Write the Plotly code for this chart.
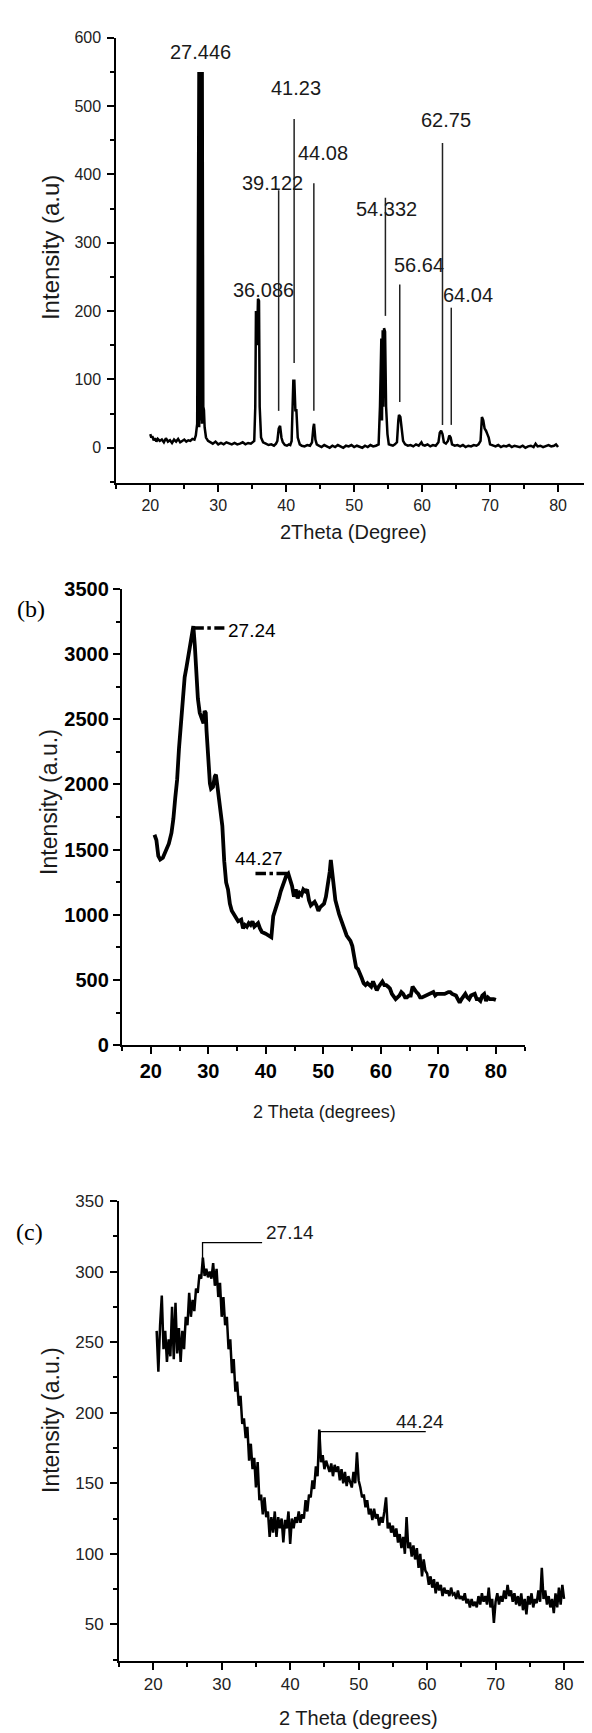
import plotly.graph_objects as go

W, H = 592, 1733

# ---------------- Panel (a) data ----------------
pts_a = [
    (20.0, 20), (20.15, 15), (20.3, 17), (20.5, 11), (20.7, 14), (20.9, 9), (21.1, 13), (21.4, 10),
    (21.7, 12), (22.0, 8), (22.3, 14), (22.6, 9), (22.9, 11), (23.2, 7), (23.5, 12), (23.8, 9),
    (24.1, 13), (24.4, 8), (24.7, 10), (25.0, 12), (25.3, 9), (25.6, 11), (25.9, 10), (26.2, 13),
    (26.5, 12), (26.7, 18), (26.9, 35),
    (27.0, 520), (27.1, 550), (27.2, 30), (27.3, 550), (27.4, 40), (27.5, 550), (27.6, 35),
    (27.7, 550), (27.8, 60), (27.9, 55), (28.0, 30), (28.2, 15), (28.5, 10),
    (28.8, 8), (29.2, 6), (29.6, 9), (30.0, 5), (30.4, 7), (30.8, 5), (31.2, 8), (31.6, 6), (32.0, 5),
    (32.4, 7), (32.8, 5), (33.2, 6), (33.6, 8), (34.0, 5), (34.4, 7), (34.8, 6), (35.1, 8),
    (35.3, 10), (35.45, 60), (35.55, 200), (35.7, 150), (35.85, 218), (36.0, 215), (36.1, 60),
    (36.3, 15), (36.6, 8),
    (37.0, 6), (37.4, 4), (37.8, 5), (38.2, 3), (38.5, 6), (38.7, 10), (38.9, 28), (39.1, 32),
    (39.3, 15), (39.5, 8), (39.8, 4), (40.1, 3), (40.4, 5), (40.6, 4), (40.8, 10),
    (40.9, 70), (41.05, 98), (41.2, 98), (41.35, 55), (41.5, 55), (41.7, 15), (42.0, 5), (42.3, 3),
    (42.7, 2), (43.1, 4), (43.5, 3), (43.8, 8), (44.0, 30), (44.1, 35), (44.3, 12), (44.5, 5),
    (44.8, 3), (45.2, 1), (45.6, 4), (46.0, 2), (46.4, 0), (46.8, 3), (47.2, 1), (47.6, 4), (48.0, 2),
    (48.4, 0), (48.8, 3), (49.2, 2), (49.6, 4), (50.0, 1), (50.4, 3), (50.8, 2), (51.2, 0), (51.6, 3),
    (52.0, 1), (52.4, 4), (52.8, 2), (53.2, 3), (53.6, 5),
    (53.8, 60), (54.0, 160), (54.1, 40), (54.2, 172), (54.3, 60), (54.4, 175), (54.55, 170),
    (54.7, 60), (54.9, 20),
    (55.1, 5), (55.4, 4), (55.7, 3), (56.0, 5), (56.3, 8), (56.5, 40), (56.6, 48), (56.8, 45),
    (57.0, 25), (57.2, 10), (57.5, 5),
    (57.9, 3), (58.3, 4), (58.7, 2), (59.1, 5), (59.5, 3), (59.9, 8), (60.1, 4), (60.4, 3), (60.8, 5),
    (61.2, 2), (61.6, 4), (62.0, 3), (62.4, 8), (62.6, 22), (62.8, 25), (63.0, 20), (63.2, 8),
    (63.5, 6), (63.8, 10), (64.0, 18), (64.2, 15), (64.4, 5),
    (64.8, 3), (65.2, 4), (65.6, 2), (66.0, 4), (66.4, 1), (66.8, 3), (67.2, 2), (67.6, 4), (68.0, 3),
    (68.3, 5), (68.6, 10), (68.8, 45), (69.0, 40), (69.2, 28), (69.4, 25), (69.6, 20), (69.8, 15),
    (70.0, 5),
    (70.4, 3), (70.8, 2), (71.2, 4), (71.6, 1), (72.0, 3), (72.4, 2), (72.8, 4), (73.2, 1), (73.6, 3),
    (74.0, 2), (74.4, 1), (74.8, 3), (75.2, 0), (75.6, 2), (76.0, 3), (76.4, 1), (76.7, 6), (77.0, 2),
    (77.4, 3), (77.8, 1), (78.2, 2), (78.6, 4), (79.0, 2), (79.4, 3), (79.7, 5), (80.0, 1),
]
labels_a = ["27.446", "36.086", "39.122", "41.23", "44.08", "54.332", "56.64", "62.75", "64.04"]
label_a_x = [27.36, 36.71, 38.05, 41.45, 45.35, 54.82, 59.5, 63.5, 66.69]
label_a_y = [579, 231, 388, 526, 431, 350, 267, 480, 224]
lead_a_x = [38.89, 41.17, 44.07, 54.6, 56.71, 63.0, 64.29]
lead_a_top = [377, 481, 387, 366, 239, 446, 205]
lead_a_bot = [54, 124, 54, 193, 67, 33.5, 33.5]

# ---------------- Panel (b) data ----------------
pts_b = [
    (20.65, 1614), (20.98, 1573), (21.31, 1451), (21.64, 1424), (22.10, 1438), (22.62, 1492),
    (23.14, 1546), (23.60, 1628), (23.93, 1736), (24.26, 1899), (24.58, 2035), (24.91, 2279),
    (25.24, 2442), (25.57, 2686), (25.89, 2822), (26.22, 2903), (26.55, 2984), (26.88, 3066),
    (27.20, 3174), (27.40, 3215), (27.66, 3066), (27.86, 2876), (28.19, 2659), (28.51, 2550),
    (28.84, 2496), (29.17, 2469), (29.36, 2564), (29.56, 2550), (29.69, 2415), (29.82, 2306),
    (30.02, 2198), (30.28, 2008), (30.48, 1967), (30.81, 1980), (31.13, 2062), (31.33, 2075),
    (31.53, 2008), (31.79, 1926), (32.12, 1818), (32.44, 1682), (32.77, 1411), (33.10, 1248),
    (33.43, 1194), (33.75, 1085), (34.08, 1031), (34.41, 1004), (34.73, 977), (35.19, 950),
    (35.72, 963), (36.04, 895), (36.37, 922), (36.70, 909), (37.03, 936), (37.35, 922),
    (37.68, 950), (38.01, 909), (38.34, 922), (38.66, 936), (38.99, 895), (39.32, 868),
    (39.97, 855), (40.63, 841), (40.96, 827), (41.29, 990), (41.61, 1031), (41.94, 1072),
    (42.27, 1126), (42.59, 1180), (42.92, 1221), (43.25, 1275), (43.58, 1302), (43.90, 1316),
    (44.23, 1275), (44.56, 1221), (44.89, 1139), (45.21, 1194), (45.54, 1126), (45.87, 1167),
    (46.20, 1153), (46.52, 1194), (46.85, 1180), (47.18, 1194), (47.50, 1112), (47.83, 1072),
    (48.16, 1085), (48.49, 1099), (48.81, 1072), (49.14, 1031), (49.47, 1058), (49.80, 1072),
    (50.12, 1085), (50.45, 1139), (50.78, 1221), (51.11, 1330), (51.30, 1420), (51.57, 1300),
    (52.09, 1112), (52.74, 1004), (53.40, 922), (54.05, 841), (54.71, 800), (55.04, 760),
    (55.36, 678), (55.69, 597), (56.02, 583), (56.35, 556), (56.67, 515), (57.00, 475),
    (57.33, 461), (57.66, 475), (57.98, 461), (58.31, 448), (58.64, 488), (58.97, 448),
    (59.29, 420), (59.62, 448), (59.95, 475), (60.27, 488), (60.60, 461), (60.93, 461),
    (61.26, 448), (61.58, 434), (61.91, 393), (62.24, 366), (62.57, 353), (62.89, 366),
    (63.22, 380), (63.55, 407), (63.88, 393), (64.20, 366), (64.53, 366), (64.86, 380),
    (65.19, 380), (65.51, 448), (65.84, 420), (66.17, 407), (66.50, 393), (66.82, 366),
    (67.15, 366), (67.81, 380), (68.46, 393), (69.12, 407), (69.44, 380), (69.77, 393),
    (70.43, 393), (71.08, 393), (71.74, 407), (72.06, 407), (72.39, 393), (73.05, 380),
    (73.37, 353), (73.70, 326), (74.03, 353), (74.36, 380), (74.68, 393), (75.01, 366),
    (75.34, 353), (75.66, 380), (76.32, 393), (76.65, 353), (76.97, 353), (77.30, 339),
    (77.63, 380), (77.96, 393), (78.28, 339), (78.61, 366), (78.94, 353), (79.59, 353),
    (79.99, 347),
]
labels_b = ["27.24", "44.27"]
mark_b_x0 = [27.4, 38.2]
mark_b_x1 = [32.8, 43.9]
mark_b_y = [3200, 1316]

# ---------------- Panel (c) data ----------------
pts_c = [
    (20.5, 258), (20.75, 229),
    (21.0, 262), (21.25, 283), (21.5, 245), (21.75, 258),
    (22.0, 236), (22.25, 252), (22.5, 240), (22.75, 275),
    (23.0, 238), (23.25, 278), (23.5, 242), (23.75, 260),
    (24.0, 236), (24.25, 258), (24.5, 245), (24.75, 268),
    (25.0, 262), (25.25, 285), (25.5, 268), (25.75, 280),
    (26.0, 272), (26.25, 288), (26.5, 285), (26.75, 298),
    (27.0, 295), (27.25, 310), (27.5, 297), (27.75, 302),
    (28.0, 296), (28.25, 300), (28.5, 295), (28.75, 306),
    (29.0, 290), (29.25, 302), (29.5, 282), (29.75, 292),
    (30.0, 268), (30.25, 282), (30.5, 262), (30.75, 268),
    (31.0, 245), (31.25, 252), (31.5, 228), (31.75, 238),
    (32.0, 215), (32.25, 222), (32.5, 205), (32.75, 212),
    (33.0, 192), (33.25, 196), (33.5, 182), (33.75, 190),
    (34.0, 166), (34.25, 178), (34.5, 160), (34.75, 168),
    (35.0, 147), (35.25, 165), (35.5, 138), (35.75, 142),
    (36.0, 128), (36.25, 140), (36.5, 126), (36.75, 130),
    (37.0, 112), (37.25, 126), (37.5, 115), (37.75, 130),
    (38.0, 112), (38.25, 126), (38.5, 118), (38.75, 125),
    (39.0, 108), (39.25, 124), (39.5, 118), (39.75, 130),
    (40.0, 107), (40.25, 125), (40.5, 118), (40.75, 126),
    (41.0, 122), (41.25, 130), (41.5, 122), (41.75, 128),
    (42.0, 125), (42.25, 138), (42.5, 130), (42.75, 142),
    (43.0, 140), (43.25, 152), (43.5, 146), (43.75, 162),
    (44.0, 155), (44.25, 188), (44.5, 165), (44.75, 170),
    (45.0, 160), (45.25, 166), (45.5, 162), (45.75, 158),
    (46.0, 164), (46.25, 155), (46.5, 163), (46.75, 158),
    (47.0, 162), (47.25, 152), (47.5, 160), (47.75, 150),
    (48.0, 158), (48.25, 148), (48.5, 155), (48.75, 150),
    (49.0, 147), (49.25, 158), (49.5, 150), (49.75, 172),
    (50.0, 152), (50.25, 147), (50.5, 140), (50.75, 142),
    (51.0, 133), (51.25, 138), (51.5, 128), (51.75, 132),
    (52.0, 124), (52.25, 132), (52.5, 125), (52.75, 128),
    (53.0, 120), (53.25, 126), (53.5, 122), (53.75, 130),
    (54.0, 140), (54.25, 118), (54.5, 122), (54.75, 115),
    (55.0, 120), (55.25, 112), (55.5, 118), (55.75, 108),
    (56.0, 114), (56.25, 104), (56.5, 112), (56.75, 100),
    (57.0, 126), (57.25, 104), (57.5, 108), (57.75, 98),
    (58.0, 106), (58.25, 96), (58.5, 104), (58.75, 90),
    (59.0, 100), (59.25, 84), (59.5, 96), (59.75, 88),
    (60.0, 86), (60.25, 78), (60.5, 84), (60.75, 76),
    (61.0, 82), (61.25, 72), (61.5, 80), (61.75, 74),
    (62.0, 78), (62.25, 70), (62.5, 76), (62.75, 72),
    (63.0, 74), (63.25, 70), (63.5, 76), (63.75, 71),
    (64.0, 72), (64.25, 68), (64.5, 74), (64.75, 68),
    (65.0, 70), (65.25, 67), (65.5, 72), (65.75, 65),
    (66.0, 68), (66.25, 62), (66.5, 68), (66.75, 63),
    (67.0, 66), (67.25, 62), (67.5, 70), (67.75, 64),
    (68.0, 72), (68.25, 66), (68.5, 70), (68.75, 64),
    (69.0, 76), (69.25, 62), (69.5, 68), (69.75, 51),
    (70.0, 66), (70.25, 72), (70.5, 64), (70.75, 70),
    (71.0, 66), (71.25, 74), (71.5, 68), (71.75, 78),
    (72.0, 70), (72.25, 74), (72.5, 66), (72.75, 72),
    (73.0, 64), (73.25, 70), (73.5, 63), (73.75, 72),
    (74.0, 60), (74.25, 68), (74.5, 57), (74.75, 70),
    (75.0, 64), (75.25, 72), (75.5, 62), (75.75, 68),
    (76.0, 65), (76.25, 74), (76.5, 66), (76.75, 90),
    (77.0, 68), (77.25, 74), (77.5, 64), (77.75, 70),
    (78.0, 62), (78.25, 68), (78.5, 58), (78.75, 72),
    (79.0, 62), (79.25, 76), (79.5, 64), (79.75, 78),
    (80.0, 68),
]
labels_c = ["27.14", "44.24"]
mark_c_x = [27.2, 44.4]
mark_c_x1 = [35.9, 59.8]
mark_c_ybot = [308, 174]
mark_c_ytop = [320.5, 186.6]
label_c_x = [40.0, 58.9]
label_c_y = [328, 194]

x_ticks = [20, 30, 40, 50, 60, 70, 80]


def px(xp):
    return xp / W


def py(yp):
    return 1 - yp / H


SANS = "Liberation Sans, Arial, sans-serif"
SERIF = "Liberation Serif, Times New Roman, serif"

fig = go.Figure()
fig.add_trace(go.Scatter(x=[p[0] for p in pts_a], y=[p[1] for p in pts_a], mode="lines",
                         line=dict(color="black", width=2.5), xaxis="x", yaxis="y"))
fig.add_trace(go.Scatter(x=[p[0] for p in pts_b], y=[p[1] for p in pts_b], mode="lines",
                         line=dict(color="black", width=3.8), xaxis="x2", yaxis="y2"))
fig.add_trace(go.Scatter(x=[p[0] for p in pts_c], y=[p[1] for p in pts_c], mode="lines",
                         line=dict(color="black", width=2.5), xaxis="x3", yaxis="y3"))


def axis_style(font, minor_dtick, lw=2, standoff=0):
    return dict(showline=True, linecolor="black", linewidth=lw, ticks="outside", ticklen=7,
                tickwidth=2, tickcolor="black", showgrid=False, zeroline=False,
                tickfont=font, ticklabelstandoff=standoff,
                minor=dict(ticks="outside", ticklen=4, tickwidth=1.5, tickcolor="black",
                           dtick=minor_dtick, showgrid=False))


font_a = dict(family=SANS, size=16, color="#222")
font_b = dict(family=SANS, size=20, color="black", weight="bold")
font_c = dict(family=SANS, size=17, color="#222")

fig.update_layout(
    width=W, height=H, margin=dict(l=0, r=0, t=0, b=0),
    paper_bgcolor="white", plot_bgcolor="white", showlegend=False,
    xaxis=dict(domain=[px(108.3), px(584)], anchor="y", range=[15, 85],
               tickvals=x_ticks, **axis_style(font_a, 5)),
    yaxis=dict(domain=[py(470), py(19)], anchor="x", range=[-51.6, 600],
               tickvals=[0, 100, 200, 300, 400, 500, 600], **axis_style(font_a, 50, standoff=3)),
    xaxis2=dict(domain=[px(114), px(516.7)], anchor="y2", range=[15, 85],
                tickvals=x_ticks, **axis_style(font_b, 5, 2.3)),
    yaxis2=dict(domain=[py(1039.3), py(577.3)], anchor="x2", range=[0, 3500],
                tickvals=[0, 500, 1000, 1500, 2000, 2500, 3000, 3500], **axis_style(font_b, 250, 2.3)),
    xaxis3=dict(domain=[px(111), px(590.3)], anchor="y3", range=[15, 85],
                tickvals=x_ticks, **axis_style(font_c, 5)),
    yaxis3=dict(domain=[py(1662.7), py(1197.3)], anchor="x3", range=[24.3, 350],
                tickvals=[50, 100, 150, 200, 250, 300, 350], **axis_style(font_c, 25, standoff=3)),
)

shapes = []
# Panel (a) leader lines
for lx, lt, lb in zip(lead_a_x, lead_a_top, lead_a_bot):
    shapes.append(dict(type="line", xref="x", yref="y", x0=lx, x1=lx, y0=lb, y1=lt,
                       line=dict(color="#222", width=1.5)))
# Panel (b) dash-dot markers
for x0, x1, yy in zip(mark_b_x0, mark_b_x1, mark_b_y):
    shapes.append(dict(type="line", xref="x2", yref="y2", x0=x0, x1=x1, y0=yy, y1=yy,
                       line=dict(color="black", width=3.5, dash="dashdot")))
# Panel (c) bracket markers
for x0, x1, yb, yt in zip(mark_c_x, mark_c_x1, mark_c_ybot, mark_c_ytop):
    shapes.append(dict(type="path", xref="x3", yref="y3",
                       path=f"M {x0},{yb} L {x0},{yt} L {x1},{yt}",
                       line=dict(color="black", width=1.3)))
fig.update_layout(shapes=shapes)

ann = []
for t, lx, ly in zip(labels_a, label_a_x, label_a_y):
    ann.append(dict(text=t, x=lx, y=ly, xref="x", yref="y", showarrow=False,
                    xanchor="center", yanchor="middle",
                    font=dict(family=SANS, size=20, color="#1a1a1a")))
ann.append(dict(text=labels_b[0], x=33.0, y=3180, xref="x2", yref="y2", showarrow=False,
                xanchor="left", yanchor="middle", font=dict(family=SANS, size=19, color="black")))
ann.append(dict(text=labels_b[1], x=38.73, y=1432, xref="x2", yref="y2", showarrow=False,
                xanchor="center", yanchor="middle", font=dict(family=SANS, size=19, color="black")))
for t, lx, ly in zip(labels_c, label_c_x, label_c_y):
    ann.append(dict(text=t, x=lx, y=ly, xref="x3", yref="y3", showarrow=False,
                    xanchor="center", yanchor="middle",
                    font=dict(family=SANS, size=19, color="#1a1a1a")))


# axis titles and panel letters
def title(text, xp, yp, size, family=SANS, angle=0, color="#1a1a1a"):
    return dict(text=text, x=px(xp), y=py(yp), xref="paper", yref="paper", showarrow=False,
                xanchor="center", yanchor="middle", textangle=angle,
                font=dict(family=family, size=size, color=color))


ann += [
    title("Intensity (a.u)", 42, 232, 24, angle=-90),
    title("2Theta (Degree)", 345, 520, 20),
    title("(b)", 23, 598, 24, family=SERIF, color="black"),
    title("Intensity (a.u.)", 41, 793, 23, angle=-90),
    title("2 Theta (degrees)", 316, 1107, 18),
    title("(c)", 21, 1229, 24, family=SERIF, color="black"),
    title("Intensity (a.u.)", 43, 1419, 23, angle=-90),
    title("2 Theta (degrees)", 350, 1721, 20),
]
fig.update_layout(annotations=ann)

fig.write_html("out.html")
